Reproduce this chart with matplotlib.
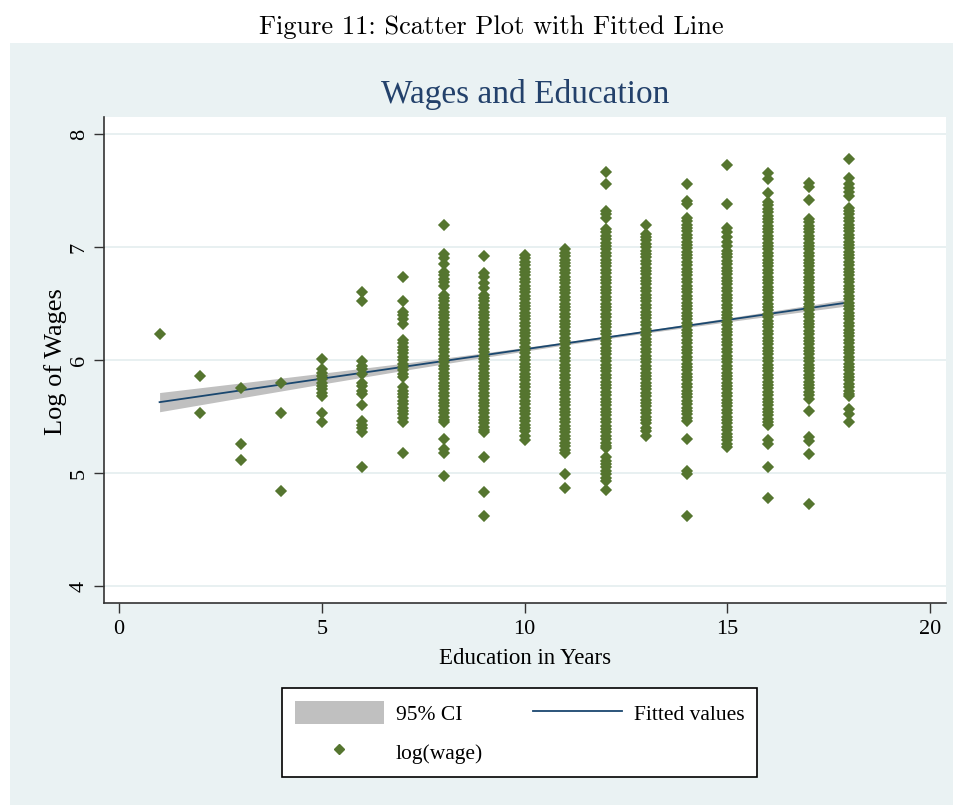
import matplotlib
matplotlib.use("Agg")
import matplotlib.pyplot as plt
from matplotlib.patches import Rectangle, Patch
from matplotlib.lines import Line2D

# years of education shown on the x axis
educ_years = list(range(1, 19))

# log(wage) readings for each education level
wage_e1 = [6.23]
wage_e2 = [5.86, 5.53]
wage_e3 = [5.75, 5.26, 5.12]
wage_e4 = [5.80, 5.53, 4.84]
wage_e5 = [6.01, 5.92, 5.89, 5.86, 5.83, 5.80, 5.77, 5.74, 5.71, 5.68, 5.53, 5.45]
wage_e6 = [6.60, 6.52, 5.99, 5.95, 5.92, 5.88, 5.80, 5.77, 5.73, 5.70, 5.60,
           5.46, 5.43, 5.40, 5.36, 5.05]
wage_e7 = [6.74, 6.52, 6.43, 6.40, 6.36, 6.32, 6.18, 6.15, 6.12, 6.09, 6.06,
           6.03, 6.00, 5.97, 5.94, 5.91, 5.88, 5.85, 5.76, 5.73, 5.70, 5.67,
           5.64, 5.61, 5.58, 5.55, 5.52, 5.49, 5.45, 5.18]
wage_e8 = [7.20, 6.94, 6.90, 6.85, 6.78, 6.75, 6.72, 6.69, 6.66,
           6.58, 6.55, 6.52, 6.49, 6.46, 6.43, 6.40, 6.37, 6.34, 6.31, 6.28,
           6.25, 6.22, 6.19, 6.16, 6.13, 6.10, 6.07, 6.04, 6.01, 5.98, 5.95,
           5.92, 5.89, 5.86, 5.83, 5.80, 5.77, 5.74, 5.71, 5.68, 5.65, 5.62,
           5.59, 5.56, 5.53, 5.50, 5.47, 5.45, 5.30, 5.21, 5.18, 4.97]
wage_e9 = [6.92, 6.77, 6.74, 6.68, 6.64, 6.58, 6.55, 6.52, 6.49, 6.46, 6.43,
           6.40, 6.37, 6.34, 6.31, 6.28, 6.25, 6.22, 6.19, 6.16, 6.13, 6.10,
           6.07, 6.04, 6.01, 5.98, 5.95, 5.92, 5.89, 5.86, 5.83, 5.80, 5.77,
           5.74, 5.71, 5.68, 5.65, 5.62, 5.59, 5.56, 5.53, 5.50, 5.47, 5.44,
           5.41, 5.38, 5.36, 5.14, 4.83, 4.62]
wage_e10 = [6.93, 6.90, 6.87, 6.84, 6.81, 6.78, 6.75, 6.72, 6.69, 6.66, 6.63,
            6.60, 6.57, 6.54, 6.51, 6.48, 6.45, 6.42, 6.39, 6.36, 6.33, 6.30,
            6.27, 6.24, 6.21, 6.18, 6.15, 6.12, 6.09, 6.06, 6.03, 6.00, 5.97,
            5.94, 5.91, 5.88, 5.85, 5.82, 5.79, 5.76, 5.73, 5.70, 5.67, 5.64,
            5.61, 5.58, 5.55, 5.52, 5.49, 5.46, 5.43, 5.40, 5.37, 5.33, 5.29]
wage_e11 = [6.98, 6.95, 6.92, 6.89, 6.86, 6.83, 6.80, 6.77, 6.74, 6.71, 6.68,
            6.65, 6.62, 6.59, 6.56, 6.53, 6.50, 6.47, 6.44, 6.41, 6.38, 6.35,
            6.32, 6.29, 6.26, 6.23, 6.20, 6.17, 6.14, 6.11, 6.08, 6.05, 6.02,
            5.99, 5.96, 5.93, 5.90, 5.87, 5.84, 5.81, 5.78, 5.75, 5.72, 5.69,
            5.66, 5.63, 5.60, 5.57, 5.54, 5.51, 5.48, 5.45, 5.42, 5.39, 5.36,
            5.33, 5.30, 5.27, 5.24, 5.20, 5.18, 4.99, 4.87]
wage_e12 = [7.67, 7.56, 7.32, 7.29, 7.26, 7.16, 7.13, 7.10, 7.07, 7.04, 7.01,
            6.98, 6.95, 6.92, 6.89, 6.86, 6.83, 6.80, 6.77, 6.74, 6.71, 6.68,
            6.65, 6.62, 6.59, 6.56, 6.53, 6.50, 6.47, 6.44, 6.41, 6.38, 6.35,
            6.32, 6.29, 6.26, 6.23, 6.20, 6.17, 6.14, 6.11, 6.08, 6.05, 6.02,
            5.99, 5.96, 5.93, 5.90, 5.87, 5.84, 5.81, 5.78, 5.75, 5.72, 5.69,
            5.66, 5.63, 5.60, 5.57, 5.54, 5.51, 5.48, 5.45, 5.42, 5.39, 5.36,
            5.33, 5.30, 5.27, 5.24, 5.22, 5.14, 5.11, 5.08, 5.05, 5.02, 4.99,
            4.96, 4.93, 4.85]
wage_e13 = [7.20, 7.12, 7.09, 7.06, 7.03, 7.00, 6.97, 6.94, 6.91, 6.88, 6.85,
            6.82, 6.79, 6.76, 6.73, 6.70, 6.67, 6.64, 6.61, 6.58, 6.55, 6.52,
            6.49, 6.46, 6.43, 6.40, 6.37, 6.34, 6.31, 6.28, 6.25, 6.22, 6.19,
            6.16, 6.13, 6.10, 6.07, 6.04, 6.01, 5.98, 5.95, 5.92, 5.89, 5.86,
            5.83, 5.80, 5.77, 5.74, 5.71, 5.68, 5.65, 5.62, 5.59, 5.56, 5.53,
            5.50, 5.47, 5.44, 5.40, 5.37, 5.33]
wage_e14 = [7.56, 7.41, 7.38, 7.26, 7.23, 7.20, 7.17, 7.14, 7.11, 7.08, 7.05,
            7.02, 6.99, 6.96, 6.93, 6.90, 6.87, 6.84, 6.81, 6.78, 6.75, 6.72,
            6.69, 6.66, 6.63, 6.60, 6.57, 6.54, 6.51, 6.48, 6.45, 6.42, 6.39,
            6.36, 6.33, 6.30, 6.27, 6.24, 6.21, 6.18, 6.15, 6.12, 6.09, 6.06,
            6.03, 6.00, 5.97, 5.94, 5.91, 5.88, 5.85, 5.82, 5.79, 5.76, 5.73,
            5.70, 5.67, 5.64, 5.61, 5.58, 5.55, 5.52, 5.49, 5.46, 5.30, 5.02,
            4.99, 4.62]
wage_e15 = [7.73, 7.38, 7.17, 7.13, 7.09, 7.05, 7.01, 6.97, 6.94, 6.91, 6.88,
            6.85, 6.82, 6.79, 6.76, 6.73, 6.70, 6.67, 6.64, 6.61, 6.58, 6.55,
            6.52, 6.49, 6.46, 6.43, 6.40, 6.37, 6.34, 6.31, 6.28, 6.25, 6.22,
            6.19, 6.16, 6.13, 6.10, 6.07, 6.04, 6.01, 5.98, 5.95, 5.92, 5.89,
            5.86, 5.83, 5.80, 5.77, 5.74, 5.71, 5.68, 5.65, 5.62, 5.59, 5.56,
            5.53, 5.50, 5.47, 5.44, 5.41, 5.38, 5.35, 5.32, 5.29, 5.26, 5.23]
wage_e16 = [7.66, 7.60, 7.48, 7.40, 7.37, 7.34, 7.31, 7.28, 7.25, 7.22, 7.19,
            7.16, 7.13, 7.10, 7.07, 7.04, 7.01, 6.98, 6.95, 6.92, 6.89, 6.86,
            6.83, 6.80, 6.77, 6.74, 6.71, 6.68, 6.65, 6.62, 6.59, 6.56, 6.53,
            6.50, 6.47, 6.44, 6.41, 6.38, 6.35, 6.32, 6.29, 6.26, 6.23, 6.20,
            6.17, 6.14, 6.11, 6.08, 6.05, 6.02, 5.99, 5.96, 5.93, 5.90, 5.87,
            5.84, 5.81, 5.78, 5.75, 5.72, 5.69, 5.66, 5.63, 5.60, 5.57, 5.54,
            5.51, 5.48, 5.45, 5.43, 5.29, 5.26, 5.05, 4.78]
wage_e17 = [7.57, 7.53, 7.42, 7.25, 7.22, 7.19, 7.16, 7.13, 7.10, 7.07, 7.04,
            7.01, 6.98, 6.95, 6.92, 6.89, 6.86, 6.83, 6.80, 6.77, 6.74, 6.71,
            6.68, 6.65, 6.62, 6.59, 6.56, 6.53, 6.50, 6.47, 6.44, 6.41, 6.38,
            6.35, 6.32, 6.29, 6.26, 6.23, 6.20, 6.17, 6.14, 6.11, 6.08, 6.05,
            6.02, 5.99, 5.96, 5.93, 5.90, 5.87, 5.84, 5.81, 5.78, 5.75, 5.72,
            5.69, 5.66, 5.55, 5.32, 5.28, 5.17, 4.73]
wage_e18 = [7.78, 7.61, 7.56, 7.52, 7.49, 7.45, 7.35, 7.32, 7.29, 7.26, 7.23,
            7.20, 7.17, 7.14, 7.11, 7.08, 7.05, 7.02, 6.99, 6.96, 6.93, 6.90,
            6.87, 6.84, 6.81, 6.78, 6.75, 6.72, 6.69, 6.66, 6.63, 6.60, 6.57,
            6.54, 6.51, 6.48, 6.45, 6.42, 6.39, 6.36, 6.33, 6.30, 6.27, 6.24,
            6.21, 6.18, 6.15, 6.12, 6.09, 6.06, 6.03, 6.00, 5.97, 5.94, 5.91,
            5.88, 5.85, 5.82, 5.79, 5.76, 5.73, 5.70, 5.68, 5.57, 5.52, 5.45]

# fitted line and its 95% band
fit_x = [1, 18]
fit_y = [5.628, 6.512]
ci_x = [1, 3, 5, 7, 9, 11, 13, 15, 17, 18]
ci_lo = [5.543, 5.666, 5.788, 5.908, 6.024, 6.135, 6.240, 6.339, 6.435, 6.482]
ci_hi = [5.713, 5.798, 5.884, 5.972, 6.064, 6.161, 6.264, 6.373, 6.485, 6.542]

x_ticks = [0, 5, 10, 15, 20]
y_ticks = [4, 5, 6, 7, 8]

GREEN = "#55752F"
NAVY = "#1A476F"
BAND = "#C0C0C0"
BG = "#EAF2F3"

plt.rcParams["font.family"] = ["Liberation Serif", "DejaVu Serif"]

fig = plt.figure(figsize=(9.56, 8.06), dpi=100)
fig.patch.set_facecolor("white")
fig.add_artist(Rectangle((0.0105, 0.001), 0.986, 0.9457, transform=fig.transFigure,
                         facecolor=BG, edgecolor="none", zorder=-5))

ax = fig.add_axes([0.1088, 0.2519, 0.8808, 0.603])
ax.set_facecolor("white")

columns = [wage_e1, wage_e2, wage_e3, wage_e4, wage_e5, wage_e6, wage_e7,
           wage_e8, wage_e9, wage_e10, wage_e11, wage_e12, wage_e13, wage_e14,
           wage_e15, wage_e16, wage_e17, wage_e18]
xs, ys = [], []
for e, vals in zip(educ_years, columns):
    xs += [e] * len(vals)
    ys += vals

ax.fill_between(ci_x, ci_lo, ci_hi, color=BAND, lw=0, zorder=1)
ax.plot(fit_x, fit_y, color=NAVY, lw=1.3, zorder=2)
ax.plot(xs, ys, ls="", marker="D", ms=5.3, mew=1.1, color=GREEN, zorder=3)

ax.set_xlim(-0.37, 20.39)
ax.set_ylim(3.85, 8.153)
ax.set_xticks(x_ticks)
ax.set_yticks(y_ticks)
ax.grid(axis="y", color="#E4EDEF", lw=1.2, zorder=0)
ax.set_axisbelow(True)

for side in ["top", "right"]:
    ax.spines[side].set_visible(False)
for side in ["left", "bottom"]:
    ax.spines[side].set_color("#333333")
    ax.spines[side].set_linewidth(1.2)

ax.tick_params(axis="both", direction="out", length=7, width=1, color="#333333",
               labelsize=16)
ax.tick_params(axis="x", pad=5)
ax.tick_params(axis="y", pad=4)
for lab in ax.get_yticklabels():
    lab.set_rotation(90)
    lab.set_va("center")

ax.set_xlabel("Education in Years", fontsize=16.5)
ax.xaxis.set_label_coords(0.5, -0.115)
ax.xaxis.label.set_va("center")
ax.set_ylabel("Log of Wages", fontsize=19)
ax.yaxis.set_label_coords(-0.058, 0.496)
ax.yaxis.label.set_va("center")

fig.text(0.549, 0.8826, "Wages and Education", ha="center", va="center",
         fontsize=24, color="#23416B")
fig.text(0.5136, 0.9665, "Figure 11: Scatter Plot with Fitted Line",
         ha="center", va="center", fontsize=19, family="cmr10")

handles = [Patch(facecolor=BAND, edgecolor="none"),
           Line2D([], [], ls="", marker="D", ms=5.2, color=GREEN),
           Line2D([], [], color=NAVY, lw=1.3)]
labels = ["95% CI", "log(wage)", "Fitted values"]
leg = fig.legend(handles, labels, ncol=2, loc="center left",
                 bbox_to_anchor=(282 / 956, 0.0912), borderaxespad=0,
                 frameon=True, fancybox=False,
                 edgecolor="black", framealpha=1, fontsize=15.5,
                 handlelength=4.14, handleheight=1.25, handletextpad=0.55,
                 columnspacing=2.3, labelspacing=0.7, borderpad=0.6)
leg.get_frame().set_linewidth(1.2)

fig.savefig("out.png", dpi=100)
